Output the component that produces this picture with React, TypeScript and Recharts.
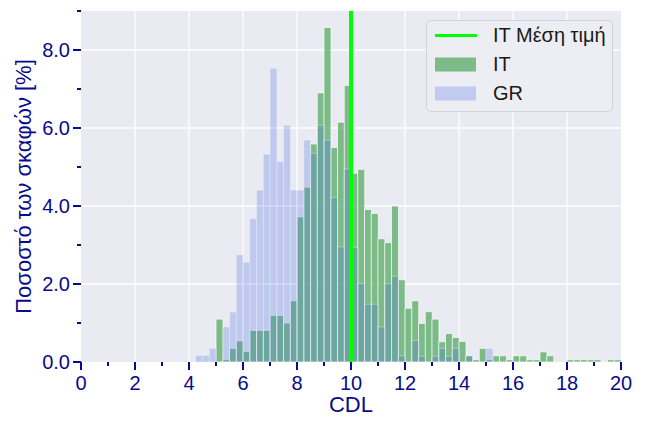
import React from 'react';
import { ComposedChart, Bar, XAxis, YAxis, CartesianGrid, ReferenceLine, Legend } from 'recharts';

// ---- data ----
const BIN_WIDTH = 0.25;
const itValues = [
  0, 0, 0, 0, 0, 0, 0, 0, 0, 0, 0, 0, 0, 0, 0, 0, 0, 0, 0, 0,
  1.10, 0.06, 0.35, 0.54, 0.27, 0.81, 0.81, 0.81, 1.19, 1.19,
  1.00, 1.57, 3.72, 4.48, 5.59, 6.90, 8.58, 5.50, 6.15, 7.09,
  4.84, 4.94, 3.91, 3.81, 3.16, 3.06, 4.00, 2.11, 1.38, 1.57,
  0.99, 1.29, 1.10, 0.52, 0.73, 0.63, 0.53, 0.16, 0.06, 0.35,
  0.06, 0.16, 0.16, 0.06, 0.16, 0.16, 0.06, 0.06, 0.26, 0.16,
  0, 0, 0.06, 0.06, 0.06, 0.06, 0.06, 0, 0.06, 0.06,
];
const grValues = [
  0, 0, 0, 0, 0, 0, 0, 0, 0, 0, 0, 0, 0, 0, 0, 0, 0, 0.17, 0.17, 0.35,
  0, 0.90, 1.28, 2.75, 2.56, 3.67, 4.41, 5.33, 7.53, 5.14,
  6.07, 4.41, 4.41, 5.69, 5.35, 6.07, 5.69, 4.22, 2.95, 4.95,
  2.94, 2.01, 1.48, 1.48, 0.90, 2.01, 2.20, 0.16, 0, 0.55,
  0.15, 0, 0.15, 0.35, 0.15, 0.35, 0, 0.16, 0, 0,
  0.35, 0, 0, 0, 0, 0, 0, 0, 0, 0,
  0, 0, 0, 0, 0, 0, 0, 0, 0, 0,
];
// bin centres (bins of width 0.25 starting at 0)
const binCenters = itValues.map((_, i) => i * BIN_WIDTH + BIN_WIDTH / 2);
const itMean = 10;
const xTicks = [0, 1, 2, 3, 4, 5, 6, 7, 8, 9, 10, 11, 12, 13, 14, 15, 16, 17, 18, 19, 20];
const xGrid = [2, 4, 6, 8, 10, 12, 14, 16, 18];
const yTicks = [0, 1, 2, 3, 4, 5, 6, 7, 8, 9];
const yGrid = [2, 4, 6, 8];
const xLabel = 'CDL';
const yLabel = 'Ποσοστό των σκαφών [%]';
const legendMeanName = 'IT Μέση τιμή';
const legendITName = 'IT';
const legendGRName = 'GR';

const data = binCenters.map((c, i) => ({ mid: c, it: itValues[i], gr: grValues[i] }));

// ---- styles ----
const NAVY = '#0a0a8c';
const FONT = '"Liberation Sans", Arial, sans-serif';
const BG = '#EAEAF2';
const IT_FILL = '#4da65a';
const IT_OPACITY = 0.7;
const GR_FILL = '#4169e1';
const GR_OPACITY = 0.25;
const MEAN_COLOR = '#00ff00';

const XTick = (props: any) => {
  const { x, y, payload } = props;
  const v = payload.value;
  const major = v % 2 === 0;
  return (
    <g>
      <line x1={x} x2={x} y1={y} y2={y + (major ? 8 : 4)} stroke={NAVY} strokeWidth={2} />
      {major && (
        <text x={x} y={y + 21} textAnchor="middle" dominantBaseline="central" fill={NAVY} fontSize={20} fontFamily={FONT}>
          {v}
        </text>
      )}
    </g>
  );
};

const YTick = (props: any) => {
  const { x, y, payload } = props;
  const v = payload.value;
  const major = v % 2 === 0;
  return (
    <g>
      <line x1={x - (major ? 8 : 4)} x2={x} y1={y} y2={y} stroke={NAVY} strokeWidth={2} />
      {major && (
        <text x={x - 11} y={y} textAnchor="end" dominantBaseline="central" fill={NAVY} fontSize={20} fontFamily={FONT}>
          {v.toFixed(1)}
        </text>
      )}
    </g>
  );
};

const YLabel = (props: any) => {
  const vb = props.viewBox || { y: 0, height: 0 };
  const cx = 15;
  const cy = vb.y + vb.height / 2;
  return (
    <text x={cx} y={cy} transform={`rotate(-90, ${cx}, ${cy})`} textAnchor="middle" dominantBaseline="central" fill={NAVY} fontSize={22} fontFamily={FONT}>
      {yLabel}
    </text>
  );
};

const XLabel = (props: any) => {
  const vb = props.viewBox || { x: 0, width: 0, y: 0 };
  const cx = vb.x + vb.width / 2;
  return (
    <text x={cx} y={vb.y + 50} textAnchor="middle" fill={NAVY} fontSize={22} fontFamily={FONT}>
      {xLabel}
    </text>
  );
};

const LegendBox = () => {
  const rowStyle = (top: number): React.CSSProperties => ({ position: 'absolute', left: 0, top, height: 29, width: '100%' });
  const textStyle: React.CSSProperties = { position: 'absolute', left: 66, top: 0, lineHeight: '29px', fontSize: 20, fontFamily: FONT, color: '#1a1a1a', whiteSpace: 'nowrap' };
  return (
    <div style={{ position: 'relative', boxSizing: 'border-box', width: 187, height: 92, border: '1px solid #d2d2da', borderRadius: 5, background: '#EDEDF4' }}>
      <div style={rowStyle(0)}>
        <svg width={44} height={29} style={{ position: 'absolute', left: 7, top: 0 }}>
          <line x1={1} x2={43} y1={14.5} y2={14.5} stroke={MEAN_COLOR} strokeWidth={3} />
        </svg>
        <span style={textStyle}>{legendMeanName}</span>
      </div>
      <div style={rowStyle(29)}>
        <svg width={44} height={29} style={{ position: 'absolute', left: 7, top: 0 }}>
          <rect x={1} y={7.5} width={41} height={14} fill={IT_FILL} fillOpacity={IT_OPACITY} />
        </svg>
        <span style={textStyle}>{legendITName}</span>
      </div>
      <div style={rowStyle(58)}>
        <svg width={44} height={29} style={{ position: 'absolute', left: 7, top: 0 }}>
          <rect x={1} y={7.5} width={41} height={14} fill={GR_FILL} fillOpacity={GR_OPACITY} />
        </svg>
        <span style={textStyle}>{legendGRName}</span>
      </div>
    </div>
  );
};

export default function App() {
  return (
    <ComposedChart
      width={636}
      height={408}
      data={data}
      margin={{ top: 3, right: 23, bottom: 0, left: 0 }}
      barCategoryGap={0}
      barGap={0}
    >
      <CartesianGrid
        xAxisId="it"
        yAxisId="y"
        fill={BG}
        fillOpacity={1}
        stroke="#ffffff"
        strokeWidth={1.3}
        horizontalValues={yGrid}
        verticalValues={xGrid}
      />
      <XAxis
        xAxisId="it"
        dataKey="mid"
        type="number"
        domain={[0, 20]}
        ticks={xTicks}
        interval={0}
        allowDataOverflow
        tickSize={0}
        tickMargin={0}
        tickLine={false}
        axisLine={false}
        height={54}
        tick={<XTick />}
        label={<XLabel />}
      />
      <XAxis xAxisId="gr" dataKey="mid" type="number" domain={[0, 20]} allowDataOverflow hide height={0} />
      <YAxis
        yAxisId="y"
        type="number"
        domain={[0, 9]}
        ticks={yTicks}
        interval={0}
        allowDataOverflow
        tickSize={0}
        tickMargin={0}
        tickLine={false}
        axisLine={false}
        width={73}
        tick={<YTick />}
        label={<YLabel />}
      />
      <Bar
        xAxisId="it"
        yAxisId="y"
        dataKey="it"
        name={legendITName}
        fill={IT_FILL}
        fillOpacity={IT_OPACITY}
        stroke="#ffffff"
        strokeOpacity={0.7}
        strokeWidth={1}
        isAnimationActive={false}
      />
      <Bar
        xAxisId="gr"
        yAxisId="y"
        dataKey="gr"
        name={legendGRName}
        fill={GR_FILL}
        fillOpacity={GR_OPACITY}
        stroke="#ffffff"
        strokeOpacity={0.35}
        strokeWidth={1}
        isAnimationActive={false}
      />
      <ReferenceLine xAxisId="it" yAxisId="y" x={itMean} stroke={MEAN_COLOR} strokeWidth={4} />
      <Legend
        layout="vertical"
        align="center"
        verticalAlign="middle"
        wrapperStyle={{ left: 418, top: 12, width: 187, height: 92 }}
        content={() => <LegendBox />}
      />
    </ComposedChart>
  );
}
